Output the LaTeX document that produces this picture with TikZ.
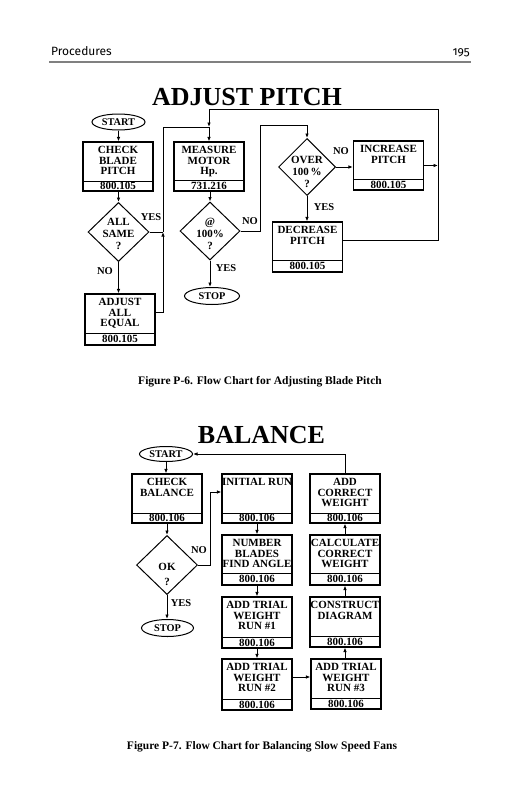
\documentclass[tikz,border=0pt]{standalone}
\usepackage{fontspec}
\setmainfont{Liberation Serif}
\newfontfamily\hdrfont[Numbers=OldStyle]{Fira Sans}
\usetikzlibrary{shapes.geometric,arrows.meta}
\newcommand\flowbox[7]{%
  \pgfmathsetmacro\fbH{#5-#3}%
  \pgfmathsetmacro\fbC{(#3+#5)/2}%
  \pgfmathsetmacro\fbN{(#4+#5)/2}%
  \node[box, minimum height=\fbH pt] (#1) at (#2,\fbC) {};
  \draw[boxline] (#1.west |- 0,#4) -- (#1.east |- 0,#4);
  \node[btext] (#1-t) at (#2,#3+4.5) {#6};
  \node[ntext] (#1-n) at (#2,\fbN) {#7};
}
\begin{document}
\begin{tikzpicture}[x=1pt,y=-1pt,
  box/.style={draw, line width=1.2pt, minimum width=70pt, inner sep=0pt},
  boxline/.style={line width=1pt},
  conn/.style={line width=0.9pt},
  arr/.style={conn, -{Latex[length=4.5pt,width=3.6pt]}},
  btext/.style={font=\fontsize{11}{10.5}\selectfont\bfseries, align=center, inner sep=0pt, anchor=north},
  ntext/.style={font=\fontsize{11}{11}\selectfont\bfseries, inner sep=0pt},
  dtext/.style={font=\fontsize{11}{12}\selectfont\bfseries, align=center, inner sep=0pt, anchor=north},
  lbl/.style={font=\fontsize{10.5}{10.5}\selectfont\bfseries, inner sep=0pt},
  term/.style={draw, ellipse, line width=1pt, inner sep=0pt, font=\fontsize{10.3}{10.3}\selectfont\bfseries},
  dia/.style={draw, diamond, line width=1pt, inner sep=0pt},
  ttl/.style={font=\fontsize{26}{26}\selectfont\bfseries, inner sep=0pt, anchor=base},
  figcap/.style={font=\fontsize{11.5}{11.5}\selectfont\bfseries, inner sep=0pt, anchor=base}
]
\useasboundingbox (0,0) rectangle (514,800);
\fill[white] (0,0) rectangle (514,800);

% header
\node[font=\hdrfont\fontsize{12}{12}\selectfont, anchor=base west, inner sep=0pt] (hdr) at (51,56) {Procedures};
\node[font=\hdrfont\fontsize{12}{12}\selectfont, anchor=base east, inner sep=0pt] (pg) at (470,56) {195};
\draw[gray, line width=1.5pt] (49,62) -- (471,62);

% ===== ADJUST PITCH =====
\node[ttl] (title1) at (247,105) {ADJUST PITCH};
\node[term, minimum width=53pt, minimum height=16pt] (start1) at (118.5,122) {START};
\flowbox{check1}{118}{142}{181}{191}{CHECK\\BLADE\\PITCH}{800.105}
\node[dia, minimum width=61pt, minimum height=59pt] (allsame) at (118.5,232) {};
\node[dtext] (allsame-t) at (118.5,218) {ALL\\SAME\\?};
\flowbox{adjust}{120}{294}{333}{345}{ADJUST\\ALL\\EQUAL}{800.105}
\flowbox{measure}{209}{142}{180}{191}{MEASURE\\MOTOR\\Hp.}{731.216}
\node[dia, minimum width=60pt, minimum height=58pt] (at100) at (210,231) {};
\node[dtext] (at100-t) at (210,217.5) {@\\100\%\\?};
\node[term, minimum width=55pt, minimum height=17pt] (stop1) at (212,296) {STOP};
\node[dia, minimum width=57pt, minimum height=57pt] (over) at (307,167) {};
\node[dtext] (over-t) at (307,156) {OVER\\100\,\%\\?};
\flowbox{increase}{388.5}{141}{179}{190}{INCREASE\\PITCH}{800.105}
\flowbox{decrease}{307.5}{222}{260}{272}{DECREASE\\PITCH}{800.105}

\coordinate (j1) at (163,232);
\coordinate (j2) at (209,127);
\coordinate (t1) at (438,109);
\coordinate (l1) at (260,125);

\draw[arr] (start1.south) -- (start1.south |- check1.north);
\draw[arr] (check1.south -| allsame.north) -- (allsame.north);
\draw[arr] (allsame.south) -- (allsame.south |- adjust.north);
\node[lbl] (no1) at (105,271) {NO};
\draw[conn] (allsame.east) -- (j1);
\node[lbl] (yes1) at (151,217) {YES};
\draw[arr] ([yshift=7pt]adjust.east) -| (j1);
\draw[conn] (j1) |- (j2);
\draw[arr] ([yshift=7pt]decrease.east) -| (t1) -| (j2);
\draw[arr] (j2) -- (measure.north);
\draw[arr] (measure.south -| at100.north) -- (at100.north);
\draw[arr] (at100.south) -- (at100.south |- stop1.north);
\node[lbl] (yes2) at (226,268) {YES};
\draw[arr] (at100.east) -| (l1) -| (over.north);
\node[lbl] (no2) at (250,221) {NO};
\draw[arr] (over.east) -- (over.east -| increase.west);
\node[lbl] (no3) at (341,151) {NO};
\draw[arr] (over.south) -- (decrease.north -| over.south);
\node[lbl] (yes3) at (324,207) {YES};
\draw[arr] (increase.east) -- (increase.east -| t1);

\node[figcap] (cap1) at (260,384) {Figure P-6. Flow Chart for Adjusting Blade Pitch};

% ===== BALANCE =====
\node[ttl] (title2) at (261.5,443) {BALANCE};
\node[term, minimum width=53pt, minimum height=15pt] (start2) at (166,454) {START};
\flowbox{checkbal}{167}{474}{513}{523}{CHECK\\BALANCE}{800.106}
\node[dia, minimum width=61pt, minimum height=59pt] (ok) at (167,565) {};
\node[dtext] (ok-t) at (167,563) {OK};
\node[dtext] (ok-q) at (167,578) {?};
\node[term, minimum width=52pt, minimum height=17pt] (stop2) at (167.5,628) {STOP};
\flowbox{initial}{257}{474}{513}{523}{INITIAL RUN}{800.106}
\flowbox{number}{257}{535}{573}{585}{NUMBER\\BLADES\\FIND ANGLE}{800.106}
\flowbox{trial1}{257}{597}{637}{648}{ADD TRIAL\\WEIGHT\\RUN \#1}{800.106}
\flowbox{trial2}{257}{659}{699}{710}{ADD TRIAL\\WEIGHT\\RUN \#2}{800.106}
\flowbox{addcorrect}{345}{474}{513}{523}{ADD\\CORRECT\\WEIGHT}{800.106}
\flowbox{calculate}{345}{535}{573}{585}{CALCULATE\\CORRECT\\WEIGHT}{800.106}
\flowbox{construct}{345}{597}{636}{647}{CONSTRUCT\\DIAGRAM}{800.106}
\flowbox{trial3}{346}{659}{698}{709}{ADD TRIAL\\WEIGHT\\RUN \#3}{800.106}

\coordinate (l2) at (210,492);
\draw[arr] (addcorrect.north) |- (start2.east);
\draw[arr] (start2.south) -- (start2.south |- checkbal.north);
\draw[arr] (checkbal.south) -- (ok.north);
\draw[conn] (ok.east) -| (l2);
\draw[arr] (l2) -- (l2 -| initial.west);
\node[lbl] (no4) at (199,550) {NO};
\draw[arr] (ok.south) -- (ok.south |- stop2.north);
\node[lbl] (yes4) at (181,603) {YES};
\draw[arr] (initial.south) -- (number.north);
\draw[arr] (number.south) -- (trial1.north);
\draw[arr] (trial1.south) -- (trial2.north);
\draw[arr] ([yshift=7.5pt]trial2.east) -- ([yshift=7.5pt]trial2.east -| trial3.west);
\draw[arr] (trial3.north -| construct.south) -- (construct.south);
\draw[arr] (construct.north) -- (calculate.south);
\draw[arr] (calculate.north) -- (addcorrect.south);

\node[figcap] (cap2) at (262,749) {Figure P-7. Flow Chart for Balancing Slow Speed Fans};
\end{tikzpicture}
\end{document}
